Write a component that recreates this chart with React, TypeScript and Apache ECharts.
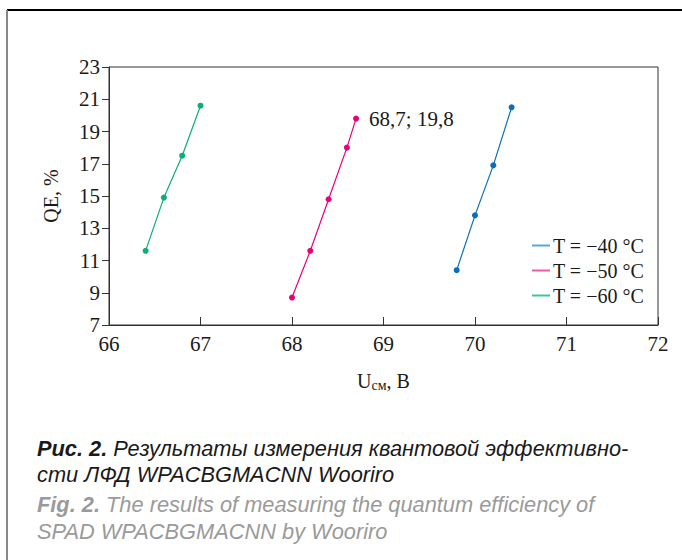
import React, { useEffect, useRef } from "react";
import * as echarts from "echarts";

const seriesNames = ["T = \u221240 \u00b0C", "T = \u221250 \u00b0C", "T = \u221260 \u00b0C"];
const seriesColors = ["#0a6ebd", "#e6007e", "#0aae78"];
const legendColors = ["#5aa7de", "#f05aa8", "#3cc79a"];

const u40 = [69.8, 70.0, 70.2, 70.4];
const qe40 = [10.4, 13.8, 16.9, 20.5];
const u50 = [68.0, 68.2, 68.4, 68.6, 68.7];
const qe50 = [8.7, 11.6, 14.8, 18.0, 19.8];
const u60 = [66.4, 66.6, 66.8, 67.0];
const qe60 = [11.6, 14.9, 17.5, 20.6];

const labelText = "68,7; 19,8";
const captionRu1 = "{b|\u0420\u0438\u0441. 2.} \u0420\u0435\u0437\u0443\u043b\u044c\u0442\u0430\u0442\u044b \u0438\u0437\u043c\u0435\u0440\u0435\u043d\u0438\u044f \u043a\u0432\u0430\u043d\u0442\u043e\u0432\u043e\u0439 \u044d\u0444\u0444\u0435\u043a\u0442\u0438\u0432\u043d\u043e-";
const captionRu2 = "\u0441\u0442\u0438 \u041b\u0424\u0414 WPACBGMACNN Wooriro";
const captionEn1 = "{b|Fig. 2.} The results of measuring the quantum efficiency of";
const captionEn2 = "SPAD WPACBGMACNN by Wooriro";

const SERIF = "'Liberation Serif', 'DejaVu Serif', serif";
const SANS = "'Liberation Sans', Arial, sans-serif";
const CAP = 21.8;

export default function App() {
  const ref = useRef<HTMLDivElement>(null);
  useEffect(() => {
    if (!ref.current) return;
    const chart = echarts.init(ref.current, null, { renderer: "svg" });
    const pairs = (xs: number[], ys: number[]) => xs.map((x, i) => [x, ys[i]]);
    const d40 = pairs(u40, qe40);
    const d50: any[] = pairs(u50, qe50);
    const last = d50.length - 1;
    d50[last] = {
      value: d50[last],
      label: {
        show: true,
        formatter: labelText,
        position: "right",
        distance: 10,
        fontFamily: SERIF,
        fontSize: 21,
        color: "#1a1a1a",
      },
    };
    const d60 = pairs(u60, qe60);
    const mk = (name: string, data: any[], color: string) => ({
      name,
      type: "line",
      data,
      symbol: "circle",
      symbolSize: 6,
      lineStyle: { width: 1.2, color },
      itemStyle: { color },
      label: { show: false },
    });
    const capStyle = (color: string, lh: number) => ({
      fontFamily: SANS,
      fontStyle: "italic",
      fontSize: CAP,
      lineHeight: lh,
      fill: color,
    });
    const boldRich = (color: string, lh: number) => ({
      b: { fontFamily: SANS, fontStyle: "italic", fontWeight: "bold", fontSize: CAP, lineHeight: lh, fill: color },
    });
    chart.setOption({
      animation: false,
      backgroundColor: "#ffffff",
      grid: {
        left: 109,
        right: 24,
        top: 67,
        bottom: 235,
        show: true,
        borderColor: "#333",
        borderWidth: 1,
      },
      xAxis: {
        type: "value",
        min: 66,
        max: 72,
        interval: 1,
        name: "U{sub|\u0441\u043c}, \u0412",
        nameLocation: "middle",
        nameGap: 45,
        nameTextStyle: {
          fontFamily: SERIF,
          fontSize: 20,
          color: "#1a1a1a",
          rich: {
            sub: { fontFamily: SERIF, fontSize: 14, color: "#1a1a1a", verticalAlign: "bottom", padding: [8, 0, 0, 0] },
          },
        },
        axisLine: { show: true, lineStyle: { color: "#333", width: 1 } },
        axisTick: { show: true, inside: true, length: 8, lineStyle: { color: "#333" } },
        axisLabel: { fontFamily: SERIF, fontSize: 21, color: "#1a1a1a", margin: 8 },
        splitLine: { show: false },
      },
      yAxis: {
        type: "value",
        min: 7,
        max: 23,
        interval: 2,
        name: "QE, %",
        nameLocation: "middle",
        nameGap: 48,
        nameTextStyle: { fontFamily: SERIF, fontSize: 20, color: "#1a1a1a" },
        axisLine: { show: true, lineStyle: { color: "#333", width: 1 } },
        axisTick: { show: true, inside: false, length: 7, lineStyle: { color: "#333" } },
        axisLabel: { fontFamily: SERIF, fontSize: 21, color: "#1a1a1a", margin: 9 },
        splitLine: { show: false },
      },
      legend: {
        orient: "vertical",
        left: 527,
        top: 230,
        itemGap: 4,
        itemWidth: 18,
        itemHeight: 2,
        icon: "rect",
        textStyle: { fontFamily: SERIF, fontSize: 20, color: "#1a1a1a", lineHeight: 21, padding: [0, 0, 0, -2] },
        data: seriesNames.map((n, i) => ({ name: n, itemStyle: { color: legendColors[i] } })),
      },
      series: [mk(seriesNames[0], d40, seriesColors[0]), mk(seriesNames[1], d50, seriesColors[1]), mk(seriesNames[2], d60, seriesColors[2])],
      graphic: [
        { type: "line", shape: { x1: 7, y1: 10, x2: 682, y2: 10 }, style: { stroke: "#000", lineWidth: 2 } },
        { type: "line", shape: { x1: 7, y1: 10, x2: 7, y2: 560 }, style: { stroke: "#888", lineWidth: 2 } },
        {
          type: "text", left: 37, top: 435,
          style: { text: captionRu1 + "\n" + captionRu2, ...capStyle("#1a1a1a", 26), rich: boldRich("#1a1a1a", 26) },
        },
        {
          type: "text", left: 37, top: 491,
          style: { text: captionEn1 + "\n" + captionEn2, ...capStyle("#9a9a9a", 27), rich: boldRich("#9a9a9a", 27) },
        },
      ],
    });
    return () => chart.dispose();
  }, []);
  return <div ref={ref} style={{ position: "fixed", left: 0, top: 0, width: 682, height: 560 }} />;
}
